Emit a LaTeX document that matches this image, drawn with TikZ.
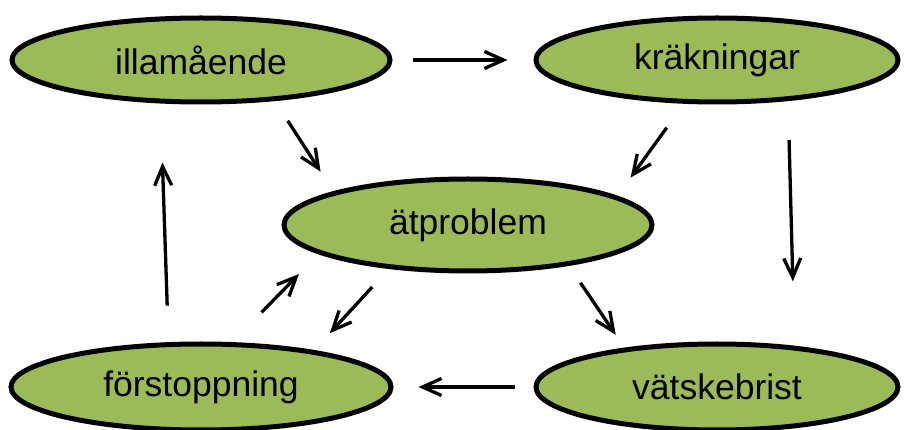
\documentclass[tikz,border=0pt]{standalone}
\usepackage{fontspec}
\setmainfont{Liberation Sans}
\usetikzlibrary{shapes.geometric,arrows.meta}
\definecolor{olgreen}{HTML}{9BBB59}
\begin{document}
\begin{tikzpicture}[x=1pt,y=-1pt,
  blob/.style={ellipse,draw=black,line width=5pt,fill=olgreen,inner sep=0pt,
    font=\fontsize{35.5}{40}\selectfont},
  arr/.style={line width=3.3pt,-{Straight Barb[length=19pt,width=17pt]}}]
\useasboundingbox (0,0) rectangle (906,430);
\node[blob,minimum width=378pt,minimum height=84pt] (ill) at (201,60) {illamående};
\node[blob,minimum width=362pt,minimum height=84pt] (kra) at (717,60) {kräkningar};
\node[blob,minimum width=368pt,minimum height=92pt] (atp) at (468,225) {ätproblem};
\node[blob,minimum width=380pt,minimum height=86pt] (for) at (201,387) {förstoppning};
\node[blob,minimum width=362pt,minimum height=86pt] (vat) at (717,387) {vätskebrist};
\draw[arr,shorten <=20pt,shorten >=26pt] (ill.east) -- (kra.west);
\draw[arr,shorten <=23.5pt,shorten >=23.5pt] (ill.-29) -- (atp.166);
\draw[arr,shorten <=29.5pt,shorten >=22.6pt] (kra.-127) -- (atp.11);
\draw[arr,shorten <=39pt,shorten >=64.5pt] (kra.-30.2) -- (vat.28.7);
\draw[arr,shorten <=20.5pt,shorten >=15.6pt] (atp.-22.6) -- (vat.157.6);
\draw[arr,shorten <=24.5pt,shorten >=23pt] (atp.-151) -- (for.18.9);
\draw[arr,shorten <=41.6pt,shorten >=28pt] (for.55.2) -- (atp.-169);
\draw[arr,shorten <=36.6pt,shorten >=59pt] (for.126.2) -- (ill.-133.5);
\draw[arr,shorten <=19pt,shorten >=25pt] (vat.west) -- (for.east);
\end{tikzpicture}
\end{document}
